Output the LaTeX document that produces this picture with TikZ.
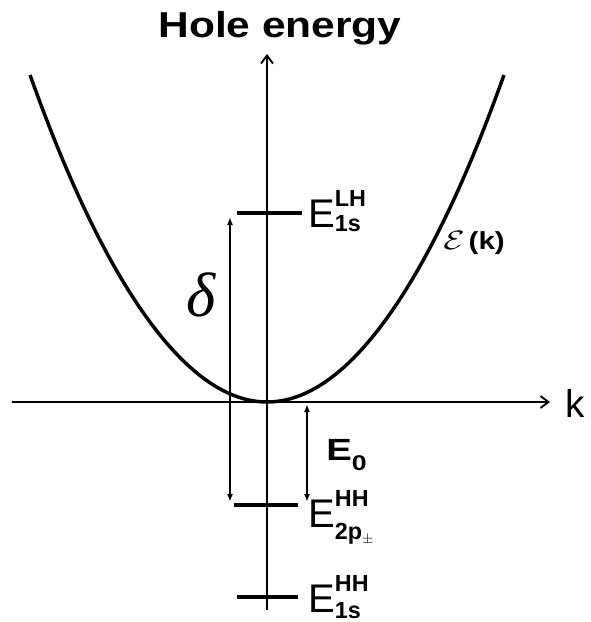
\documentclass[tikz,border=0pt]{standalone}
\usepackage{fix-cm}
\usepackage{amsmath}
\usepackage{graphicx}
\usepackage{fontspec}
\setmainfont{Liberation Sans}
\newfontfamily\timesfont{Liberation Serif}
\usetikzlibrary{arrows.meta,positioning,calc}
% small bold text for the level indices
\newcommand{\idxfont}{\fontsize{17.5}{18}\selectfont\bfseries}
\newcommand{\lvl}[3]{E\rlap{\raisebox{15.5pt}{\idxfont #1}}\raisebox{-#3}{\idxfont #2}}

\begin{document}
\begin{tikzpicture}[x=0.75pt,y=-0.75pt,>=Latex,
  axis/.style={line width=1.4pt,-{Straight Barb[length=6pt,width=9pt]}},
  level/.style={line width=3.6pt},
  span/.style={line width=1.2pt,{Latex[length=6pt,width=4.5pt]}-{Latex[length=6pt,width=4.5pt]}},
  lbl/.style={anchor=base west,inner sep=0pt,font=\fontsize{30}{34}\selectfont}]
\useasboundingbox (0,0) rectangle (591,622);
% axes
\coordinate (O) at (267,402);
\coordinate (kL) at (12,402);
\coordinate (kR) at (550,402);
\coordinate (eB) at (267,610);
\coordinate (eT) at (267,54);
\draw[axis] (kL) -- (kR);
\draw[axis] (eB) -- (eT);
\node (k) [anchor=base west,inner sep=0pt,font=\fontsize{29}{33}\selectfont] at (565,417) {k};
\node (title) [anchor=base,inner sep=0pt,font=\fontsize{27}{31}\selectfont\bfseries] at (280,37)
  {\scalebox{1.18}[1]{Hole energy}};
% dispersion
\draw[line width=2.6pt] (30,75) parabola bend (O) (504,75);
\node (eps) [anchor=base west,inner sep=0pt] at (443,249)
  {\scalebox{1.3}[1]{\fontsize{20}{24}\selectfont$\mathcal{E}$}\hspace{3pt}%
   \scalebox{1.2}[1]{\fontsize{18.5}{22}\selectfont\bfseries(k)}};
% levels
\draw[level] (237,213) coordinate (lhL) -- (302,213) coordinate (lhR);
\draw[level] (234,505) coordinate (ppL) -- (298,505) coordinate (ppR);
\draw[level] (237,597) coordinate (hsL) -- (298,597) coordinate (hsR);
\node (lh) [lbl] at (308,227) {\lvl{LH}{1s}{3pt}};
\node (pp) [lbl] at (308,527) {\lvl{HH}{2p\raisebox{-3pt}{\fontsize{11}{11}\selectfont$\pm$}}{9pt}};
\node (hs) [lbl] at (308,612) {\lvl{HH}{1s}{4.5pt}};
% gaps
\coordinate (dT) at (230,217);
\coordinate (dB) at (230,502);
\coordinate (eT0) at (307,404);
\coordinate (eB0) at (307,502);
\draw[span] (dT) -- (dB);
\draw[span] (eT0) -- (eB0);
\node (delta) [anchor=base,inner sep=0pt,font=\fontsize{47}{52}\selectfont\timesfont\itshape] at (201,316) {δ};
\node (E0) [anchor=base west,inner sep=0pt,font=\fontsize{23}{27}\selectfont\bfseries] at (326,460)
  {\scalebox{1.25}[1]{E\raisebox{-7.5pt}{\fontsize{16}{16}\selectfont 0}}};
\end{tikzpicture}
\end{document}
